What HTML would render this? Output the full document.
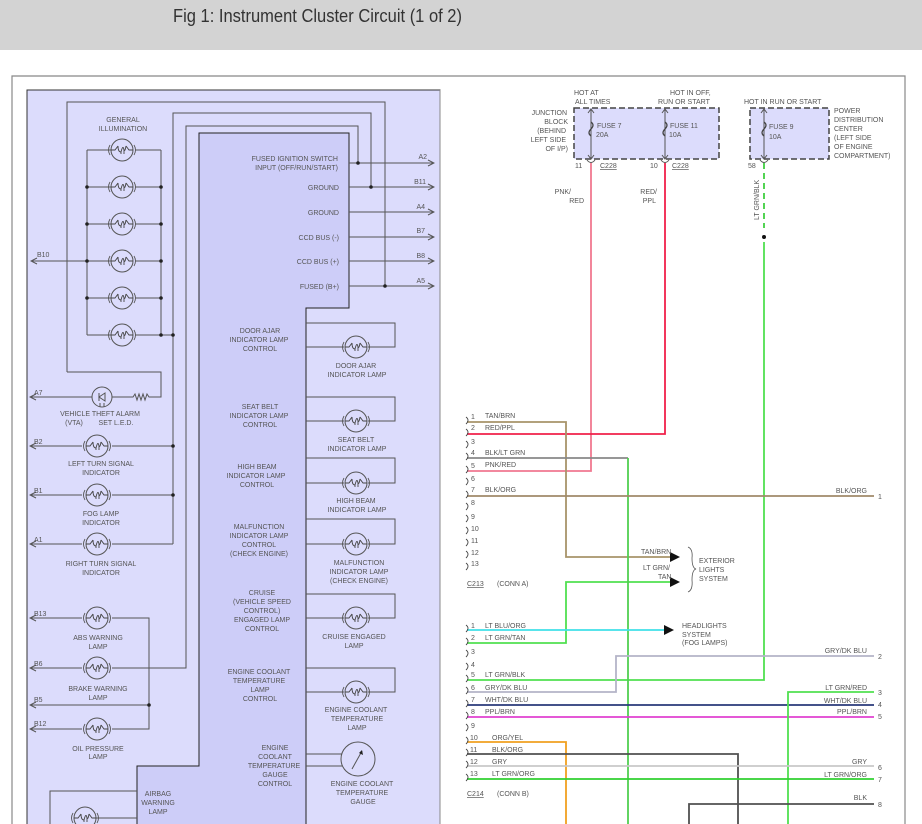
<!DOCTYPE html>
<html><head><meta charset="utf-8"><style>
html,body{margin:0;padding:0;background:#fff;width:922px;height:824px;overflow:hidden}
svg{display:block}
text{font-family:"Liberation Sans",sans-serif;font-size:7px;fill:#555}
</style></head><body>
<svg width="922" height="824" viewBox="0 0 922 824" xmlns="http://www.w3.org/2000/svg">
<defs>
<g id="lamp">
<circle cx="0" cy="0" r="11" fill="none" stroke="#555" stroke-width="1"/>
<path d="M-12,-5 Q-15,0 -12,5 M12,-5 Q15,0 12,5" fill="none" stroke="#555" stroke-width="0.9"/>
<path d="M-11,0 L-7,0 L-4,-4 M11,0 L7,0 L4,-4 M-4,-4 Q-4,2 -1,2 Q1,-6 2,0 Q3,2 4,-4 M-1,2 L-1,4 M2,0 L2,4" fill="none" stroke="#444" stroke-width="0.9"/>
</g>
<marker id="ar" markerWidth="8" markerHeight="8" refX="7" refY="4" orient="auto" markerUnits="userSpaceOnUse"><path d="M1,1 L7,4 L1,7" fill="none" stroke="#555" stroke-width="1"/></marker>
</defs>
<rect x="0" y="0" width="922" height="50" fill="#d3d3d3"/>
<text x="173" y="22" style="font-size:18px;fill:#333" textLength="289" lengthAdjust="spacingAndGlyphs">Fig 1: Instrument Cluster Circuit (1 of 2)</text>
<path d="M12,824 L12,76 L905,76 L905,824" fill="none" stroke="#888" stroke-width="1.2"/>

<rect x="27" y="90" width="413" height="740" fill="#dcdcfc" stroke="#333" stroke-width="1"/>
<path d="M199,133 L349,133 L349,308 L306,308 L306,830 L137,830 L137,766 L199,766 Z" fill="#cdcdf8" stroke="#222" stroke-width="1"/>
<line x1="440" y1="90" x2="440" y2="830" stroke="#888"/>

<g fill="none" stroke="#555" stroke-width="1">
<path d="M67,372 L67,102 L385,102 L385,286"/>
<path d="M173,544 L173,113 L371,113 L371,187"/>
<path d="M112,668 L186,668 L186,126 L358,126 L358,163"/>
<line x1="349" y1="163" x2="434" y2="163" marker-end="url(#ar)"/>
<line x1="349" y1="187" x2="434" y2="187" marker-end="url(#ar)"/>
<line x1="349" y1="212" x2="434" y2="212" marker-end="url(#ar)"/>
<line x1="349" y1="237" x2="434" y2="237" marker-end="url(#ar)"/>
<line x1="349" y1="261" x2="434" y2="261" marker-end="url(#ar)"/>
<line x1="349" y1="286" x2="434" y2="286" marker-end="url(#ar)"/>
<path d="M87,150 L87,335 M161,150 L161,335 L173,335"/>
<path d="M87,150 L111,150 M135,150 L161,150 M87,187 L111,187 M135,187 L161,187 M87,224 L111,224 M135,224 L161,224 M87,261 L111,261 M135,261 L161,261 M87,298 L111,298 M135,298 L161,298 M87,335 L111,335 M135,335 L161,335"/>
<line x1="87" y1="261" x2="31" y2="261" marker-end="url(#ar)"/>
<path d="M67,372 L161,372 L161,397 L149,397 L147,394 L145,400 L143,394 L141,400 L139,394 L137,400 L135,394 L133,397 L112,397"/>
<line x1="92" y1="397" x2="30" y2="397" marker-end="url(#ar)"/>
<circle cx="102" cy="397" r="10"/>
<path d="M99,393 L99,401 M99,397 L105,393 L105,401 Z M100,403 L100,407 M104,403 L104,407"/>
<path d="M112,446 L173,446 M112,495 L173,495 M112,544 L173,544"/>
<line x1="82" y1="446" x2="30" y2="446" marker-end="url(#ar)"/>
<line x1="82" y1="495" x2="30" y2="495" marker-end="url(#ar)"/>
<line x1="82" y1="544" x2="30" y2="544" marker-end="url(#ar)"/>
<path d="M112,618 L149,618 L149,729 L112,729 M30,705 L149,705"/>
<line x1="82" y1="618" x2="30" y2="618" marker-end="url(#ar)"/>
<line x1="82" y1="668" x2="30" y2="668" marker-end="url(#ar)"/>
<line x1="149" y1="705" x2="30" y2="705" marker-end="url(#ar)"/>
<line x1="82" y1="729" x2="30" y2="729" marker-end="url(#ar)"/>
<path d="M137,791 L50,791 L50,830 M96,818 L137,818"/>
<path d="M306,323 L395,323 L395,347 L368,347 M306,347 L344,347"/>
<path d="M306,397 L395,397 L395,421 L368,421 M306,421 L344,421"/>
<path d="M306,458 L395,458 L395,483 L368,483 M306,483 L344,483"/>
<path d="M306,519 L395,519 L395,544 L368,544 M306,544 L344,544"/>
<path d="M306,594 L395,594 L395,618 L368,618 M306,618 L344,618"/>
<path d="M306,668 L395,668 L395,692 L368,692 M306,692 L344,692"/>
<path d="M306,754 L342,754 M306,766 L342,766"/>
<circle cx="358" cy="759" r="17"/>
<path d="M352,769 L362,751"/>
</g>
<g fill="#222">
<circle cx="358" cy="163" r="1.8"/><circle cx="371" cy="187" r="1.8"/><circle cx="385" cy="286" r="1.8"/>
<circle cx="87" cy="187" r="1.8"/><circle cx="87" cy="224" r="1.8"/><circle cx="87" cy="261" r="1.8"/><circle cx="87" cy="298" r="1.8"/>
<circle cx="161" cy="187" r="1.8"/><circle cx="161" cy="224" r="1.8"/><circle cx="161" cy="261" r="1.8"/><circle cx="161" cy="298" r="1.8"/><circle cx="161" cy="335" r="1.8"/><circle cx="173" cy="335" r="1.8"/>
<circle cx="173" cy="446" r="1.8"/><circle cx="173" cy="495" r="1.8"/><circle cx="149" cy="705" r="1.8"/>
<path d="M363,755 L362,750 L359,753 Z"/>
</g>
<use href="#lamp" x="122" y="150"/><use href="#lamp" x="122" y="187"/><use href="#lamp" x="122" y="224"/><use href="#lamp" x="122" y="261"/><use href="#lamp" x="122" y="298"/><use href="#lamp" x="122" y="335"/>
<use href="#lamp" x="97" y="446"/><use href="#lamp" x="97" y="495"/><use href="#lamp" x="97" y="544"/><use href="#lamp" x="97" y="618"/><use href="#lamp" x="97" y="668"/><use href="#lamp" x="97" y="729"/>
<use href="#lamp" x="85" y="818"/>
<use href="#lamp" x="356" y="347"/><use href="#lamp" x="356" y="421"/><use href="#lamp" x="356" y="483"/><use href="#lamp" x="356" y="544"/><use href="#lamp" x="356" y="618"/><use href="#lamp" x="356" y="692"/>

<g text-anchor="end">
<text x="338" y="161">FUSED IGNITION SWITCH</text><text x="338" y="170">INPUT (OFF/RUN/START)</text>
<text x="339" y="190">GROUND</text><text x="339" y="215">GROUND</text>
<text x="339" y="240">CCD BUS (-)</text><text x="339" y="264">CCD BUS (+)</text><text x="339" y="289">FUSED (B+)</text>
<text x="427" y="159">A2</text><text x="426" y="184">B11</text><text x="425" y="209">A4</text><text x="425" y="233">B7</text><text x="425" y="258">B8</text><text x="425" y="283">A5</text>
</g>
<text x="37" y="257">B10</text><text x="34" y="395">A7</text><text x="34" y="444">B2</text><text x="34" y="493">B1</text><text x="34" y="542">A1</text>
<text x="34" y="616">B13</text><text x="34" y="666">B6</text><text x="34" y="702">B5</text><text x="34" y="726">B12</text>
<g text-anchor="middle">
<text x="123" y="122">GENERAL</text><text x="123" y="131">ILLUMINATION</text>
<text x="100" y="416">VEHICLE THEFT ALARM</text><text x="74" y="425">(VTA)</text><text x="116" y="425">SET L.E.D.</text>
<text x="101" y="466">LEFT TURN SIGNAL</text><text x="101" y="475">INDICATOR</text>
<text x="101" y="516">FOG LAMP</text><text x="101" y="525">INDICATOR</text>
<text x="101" y="566">RIGHT TURN SIGNAL</text><text x="101" y="575">INDICATOR</text>
<text x="98" y="640">ABS WARNING</text><text x="98" y="649">LAMP</text>
<text x="98" y="691">BRAKE WARNING</text><text x="98" y="700">LAMP</text>
<text x="98" y="751">OIL PRESSURE</text><text x="98" y="759">LAMP</text>
<text x="158" y="796">AIRBAG</text><text x="158" y="805">WARNING</text><text x="158" y="814">LAMP</text>
<text x="260" y="333">DOOR AJAR</text><text x="259" y="342">INDICATOR LAMP</text><text x="260" y="351">CONTROL</text>
<text x="260" y="409">SEAT BELT</text><text x="259" y="418">INDICATOR LAMP</text><text x="260" y="427">CONTROL</text>
<text x="257" y="469">HIGH BEAM</text><text x="256" y="478">INDICATOR LAMP</text><text x="257" y="487">CONTROL</text>
<text x="259" y="529">MALFUNCTION</text><text x="259" y="538">INDICATOR LAMP</text><text x="259" y="547">CONTROL</text><text x="259" y="556">(CHECK ENGINE)</text>
<text x="262" y="595">CRUISE</text><text x="262" y="604">(VEHICLE SPEED</text><text x="262" y="613">CONTROL)</text><text x="262" y="622">ENGAGED LAMP</text><text x="262" y="631">CONTROL</text>
<text x="259" y="674">ENGINE COOLANT</text><text x="259" y="683">TEMPERATURE</text><text x="260" y="692">LAMP</text><text x="260" y="701">CONTROL</text>
<text x="275" y="750">ENGINE</text><text x="275" y="759">COOLANT</text><text x="274" y="768">TEMPERATURE</text><text x="275" y="777">GAUGE</text><text x="275" y="786">CONTROL</text>
<text x="356" y="368">DOOR AJAR</text><text x="357" y="377">INDICATOR LAMP</text>
<text x="356" y="442">SEAT BELT</text><text x="357" y="451">INDICATOR LAMP</text>
<text x="356" y="503">HIGH BEAM</text><text x="357" y="512">INDICATOR LAMP</text>
<text x="359" y="565">MALFUNCTION</text><text x="359" y="574">INDICATOR LAMP</text><text x="359" y="583">(CHECK ENGINE)</text>
<text x="354" y="639">CRUISE ENGAGED</text><text x="354" y="648">LAMP</text>
<text x="356" y="712">ENGINE COOLANT</text><text x="357" y="721">TEMPERATURE</text><text x="357" y="730">LAMP</text>
<text x="362" y="786">ENGINE COOLANT</text><text x="362" y="795">TEMPERATURE</text><text x="363" y="804">GAUGE</text>
</g>

<rect x="574" y="108" width="145" height="51" fill="#dcdcfc" stroke="#444" stroke-width="1.5" stroke-dasharray="6,3"/>
<rect x="750" y="108" width="79" height="51" fill="#dcdcfc" stroke="#444" stroke-width="1.5" stroke-dasharray="6,3"/>
<g fill="none" stroke="#555" stroke-width="1">
<path d="M591,110 L591,158 M588,113 L591,109 L594,113 M588,155 L591,159 L594,155"/>
<path d="M665,110 L665,158 M662,113 L665,109 L668,113 M662,155 L665,159 L668,155"/>
<path d="M764,110 L764,158 M761,113 L764,109 L767,113 M761,155 L764,159 L767,155"/>
<path d="M587,160 Q591,165 595,160 M661,160 Q665,165 669,160 M760,160 Q764,165 768,160"/>
</g>
<g fill="none" stroke="#444" stroke-width="1.3">
<path d="M591,122 Q595,125 591,129 Q587,133 591,136"/><path d="M665,122 Q669,125 665,129 Q661,133 665,136"/><path d="M764,122 Q768,125 764,129 Q760,133 764,136"/>
</g>
<g>
<text x="574" y="95">HOT AT</text><text x="575" y="104">ALL TIMES</text>
<text x="670" y="95">HOT IN OFF,</text><text x="658" y="104">RUN OR START</text>
<text x="744" y="104">HOT IN RUN OR START</text>
<text x="597" y="128">FUSE 7</text><text x="596" y="137">20A</text>
<text x="670" y="128">FUSE 11</text><text x="669" y="137">10A</text>
<text x="769" y="129">FUSE 9</text><text x="769" y="139">10A</text>
<text x="834" y="113">POWER</text><text x="834" y="122">DISTRIBUTION</text><text x="834" y="131">CENTER</text><text x="834" y="140">(LEFT SIDE</text><text x="834" y="149">OF ENGINE</text><text x="834" y="158">COMPARTMENT)</text>
<text x="575" y="168">11</text><text x="600" y="168" text-decoration="underline">C228</text>
<text x="650" y="168">10</text><text x="672" y="168" text-decoration="underline">C228</text>
<text x="748" y="168">58</text>
<text x="571" y="194" text-anchor="end">PNK/</text><text x="584" y="203" text-anchor="end">RED</text>
<text x="657" y="194" text-anchor="end">RED/</text><text x="656" y="203" text-anchor="end">PPL</text>
<text transform="translate(759,220) rotate(-90)">LT GRN/BLK</text>
</g>
<g text-anchor="end">
<text x="567" y="115">JUNCTION</text><text x="568" y="124">BLOCK</text><text x="566" y="133">(BEHIND</text><text x="566" y="142">LEFT SIDE</text><text x="568" y="151">OF I/P)</text>
</g>

<g fill="none" stroke-width="1.8">
<path d="M591,163 L591,471 L467,471" stroke="#f07890"/>
<path d="M665,163 L665,434 L467,434" stroke="#f0204a"/>
<path d="M764,163 L764,228" stroke="#40d040" stroke-dasharray="6,4"/>
<path d="M764,242 L764,680 L467,680" stroke="#50e050"/>
<path d="M467,422 L566,422 L566,557 L670,557" stroke="#a8946a"/>
<path d="M467,643 L566,643 L566,582 L670,582" stroke="#50e050"/>
<path d="M467,458 L628,458" stroke="#888"/>
<path d="M628,458 L628,824" stroke="#50d050"/>
<path d="M467,496 L874,496" stroke="#a08a6a"/>
<path d="M467,630 L664,630" stroke="#40e0e8"/>
<path d="M467,692 L616,692 L616,656 L874,656" stroke="#b4b4c8"/>
<path d="M467,705 L874,705" stroke="#2a3a7a"/>
<path d="M467,717 L874,717" stroke="#e040d0"/>
<path d="M874,692 L788,692 L788,824" stroke="#50e050"/>
<path d="M467,742 L566,742 L566,824" stroke="#f0a020"/>
<path d="M467,754 L738,754 L738,824" stroke="#505050"/>
<path d="M467,766 L874,766" stroke="#c8c8c8"/>
<path d="M467,779 L874,779" stroke="#30d030"/>
<path d="M874,804 L689,804 L689,824" stroke="#505050"/>
</g>
<circle cx="764" cy="237" r="2" fill="#111"/>
<g fill="#111"><path d="M670,552 L680,557 L670,562 Z M670,577 L680,582 L670,587 Z M664,625 L674,630 L664,635 Z"/></g>
<path d="M688,547 Q693,549 692,558 Q692,568 696,569 Q692,570 692,580 Q693,590 688,592" fill="none" stroke="#555" stroke-width="0.8"/>
<g fill="none" stroke="#444" stroke-width="0.9">
<path d="M466,417 q4,3 0,7 M466,429 q4,3 0,7 M466,441 q4,3 0,7 M466,453 q4,3 0,7 M466,466 q4,3 0,7 M466,478 q4,3 0,7 M466,491 q4,3 0,7 M466,503 q4,3 0,7 M466,515 q4,3 0,7 M466,527 q4,3 0,7 M466,539 q4,3 0,7 M466,551 q4,3 0,7 M466,563 q4,3 0,7"/>
<path d="M466,625 q4,3 0,7 M466,638 q4,3 0,7 M466,650 q4,3 0,7 M466,663 q4,3 0,7 M466,675 q4,3 0,7 M466,687 q4,3 0,7 M466,700 q4,3 0,7 M466,712 q4,3 0,7 M466,724 q4,3 0,7 M466,737 q4,3 0,7 M466,749 q4,3 0,7 M466,761 q4,3 0,7 M466,774 q4,3 0,7"/>
</g>
<g>
<text x="471" y="419">1</text><text x="471" y="430">2</text><text x="471" y="444">3</text><text x="471" y="455">4</text><text x="471" y="468">5</text><text x="471" y="481">6</text><text x="471" y="492">7</text><text x="471" y="505">8</text><text x="471" y="519">9</text><text x="471" y="531">10</text><text x="471" y="543">11</text><text x="471" y="555">12</text><text x="471" y="566">13</text>
<text x="485" y="418">TAN/BRN</text><text x="485" y="430">RED/PPL</text><text x="485" y="455">BLK/LT GRN</text><text x="485" y="467">PNK/RED</text><text x="485" y="492">BLK/ORG</text>
<text x="467" y="586" text-decoration="underline">C213</text><text x="497" y="586">(CONN A)</text>
<text x="641" y="554">TAN/BRN</text><text x="643" y="570">LT GRN/</text><text x="658" y="579">TAN</text>
<text x="699" y="563">EXTERIOR</text><text x="699" y="572">LIGHTS</text><text x="699" y="581">SYSTEM</text>
<text x="471" y="628">1</text><text x="471" y="640">2</text><text x="471" y="654">3</text><text x="471" y="667">4</text><text x="471" y="677">5</text><text x="471" y="690">6</text><text x="471" y="702">7</text><text x="471" y="714">8</text><text x="471" y="728">9</text><text x="470" y="740">10</text><text x="470" y="752">11</text><text x="470" y="764">12</text><text x="470" y="776">13</text>
<text x="485" y="628">LT BLU/ORG</text><text x="485" y="640">LT GRN/TAN</text><text x="485" y="677">LT GRN/BLK</text><text x="485" y="690">GRY/DK BLU</text><text x="485" y="702">WHT/DK BLU</text><text x="485" y="714">PPL/BRN</text>
<text x="492" y="740">ORG/YEL</text><text x="492" y="752">BLK/ORG</text><text x="492" y="764">GRY</text><text x="492" y="776">LT GRN/ORG</text>
<text x="467" y="796" text-decoration="underline">C214</text><text x="497" y="796">(CONN B)</text>
<text x="682" y="628">HEADLIGHTS</text><text x="682" y="637">SYSTEM</text><text x="682" y="645">(FOG LAMPS)</text>
</g>
<g text-anchor="end">
<text x="867" y="493">BLK/ORG</text><text x="867" y="653">GRY/DK BLU</text><text x="867" y="690">LT GRN/RED</text><text x="867" y="703">WHT/DK BLU</text><text x="867" y="714">PPL/BRN</text><text x="867" y="764">GRY</text><text x="867" y="777">LT GRN/ORG</text><text x="867" y="800">BLK</text>
</g>
<g>
<text x="878" y="499">1</text><text x="878" y="659">2</text><text x="878" y="695">3</text><text x="878" y="707">4</text><text x="878" y="719">5</text><text x="878" y="770">6</text><text x="878" y="782">7</text><text x="878" y="807">8</text>
</g>
</svg>
</body></html>
